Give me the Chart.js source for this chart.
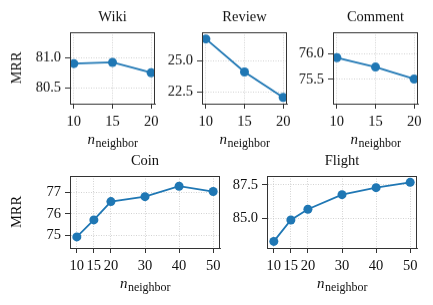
<!DOCTYPE html>
<html>
<head>
<meta charset="utf-8">
<script src="https://cdn.jsdelivr.net/npm/chart.js@4"></script>
<style>
  html, body { margin:0; padding:0; background:#fff; }
  #fig { position:relative; width:433px; height:305px; overflow:hidden; }
  #fig canvas { position:absolute; }
</style>
</head>
<body>
<div id="fig"></div>
<script>
// neighbor counts on the x axis
const xSmall = [10, 15, 20];
const xLarge = [10, 15, 20, 30, 40, 50];

// MRR
const wikiMRR    = [80.90, 80.92, 80.75];
const reviewMRR  = [26.73, 24.10, 22.08];
const commentMRR = [75.92, 75.74, 75.51];
const coinMRR    = [74.92, 75.72, 76.58, 76.81, 77.30, 77.05];
const flightMRR  = [83.23, 84.85, 85.66, 86.77, 87.30, 87.70];

// y tick labels per panel
const wikiTicks    = [80.5, 81.0];
const reviewTicks  = [22.5, 25.0];
const commentTicks = [75.5, 76.0];
const coinTicks    = [75, 76, 77];
const flightTicks  = [85.0, 87.5];

const FONT = '"Liberation Serif", "DejaVu Serif", serif';
const BLUE = '#1f77b4';
const YW = 70, PAD_T = 32, PAD_R = 14, XH = 31, PAD_B = 25;

// plot-area boxes (left, top, width, height) and axis ranges
const panels = [
  {title:'Wiki',    xs:xSmall, ys:wikiMRR,    ticks:wikiTicks,    dec:1, xr:[9.5,20.5], yr:[80.24,81.416], box:[70,32,85,71.5],    ylabel:true},
  {title:'Review',  xs:xSmall, ys:reviewMRR,  ticks:reviewTicks,  dec:1, xr:[9.5,20.5], yr:[21.58,27.26],  box:[201.5,32,85,71.5], ylabel:false},
  {title:'Comment', xs:xSmall, ys:commentMRR, ticks:commentTicks, dec:1, xr:[9.5,20.5], yr:[75.035,76.41], box:[332.5,32,85,71.5], ylabel:false},
  {title:'Coin',    xs:xLarge, ys:coinMRR,    ticks:coinTicks,    dec:0, xr:[8,52],     yr:[74.40,77.78],  box:[70,176,150,72],    ylabel:true},
  {title:'Flight',  xs:xLarge, ys:flightMRR,  ticks:flightTicks,  dec:1, xr:[8,52],     yr:[82.73,88.18],  box:[267,176,150,72],   ylabel:false}
];

// box around plot, title, axis labels
const decor = {
  id:'decor',
  afterDraw(chart, args, opts){
    const ctx = chart.ctx, a = chart.chartArea;
    ctx.save();
    ctx.setLineDash([]);
    ctx.strokeStyle = '#333';
    ctx.lineWidth = 1;
    ctx.strokeRect(Math.round(a.left)+0.5, Math.round(a.top)+0.5, Math.round(a.right)-Math.round(a.left)-1, Math.round(a.bottom)-Math.round(a.top));
    ctx.fillStyle = '#111';
    const cx = (a.left + a.right)/2;
    // title
    ctx.font = '14.5px ' + FONT;
    ctx.textAlign = 'center';
    ctx.textBaseline = 'middle';
    ctx.fillText(opts.title, cx, a.top - 15);
    // x label: italic n with roman subscript
    ctx.textBaseline = 'alphabetic';
    ctx.font = 'italic 15px ' + FONT;
    const wN = ctx.measureText('n').width;
    ctx.font = '12px ' + FONT;
    const wS = ctx.measureText('neighbor').width;
    const x0 = cx - (wN + wS)/2, base = a.bottom + 40;
    ctx.textAlign = 'left';
    ctx.font = 'italic 15px ' + FONT;
    ctx.fillText('n', x0, base);
    ctx.font = '12px ' + FONT;
    ctx.fillText('neighbor', x0 + wN + 0.5, base + 2.5);
    // y label
    if(opts.ylabel){
      ctx.translate(17, (a.top + a.bottom)/2);
      ctx.rotate(-Math.PI/2);
      ctx.font = '14.5px ' + FONT;
      ctx.textAlign = 'center';
      ctx.textBaseline = 'middle';
      ctx.fillText('MRR', 0, 0);
    }
    ctx.restore();
  }
};

const fig = document.getElementById('fig');

panels.forEach(p=>{
  const [L, T, W, H] = p.box;
  const cv = document.createElement('canvas');
  const cw = YW + W + PAD_R, ch = PAD_T + H + XH + PAD_B;
  cv.style.left = (L - YW) + 'px';
  cv.style.top = (T - PAD_T) + 'px';
  cv.style.width = cw + 'px';
  cv.style.height = ch + 'px';
  cv.width = cw; cv.height = ch;
  fig.appendChild(cv);

  // v4 takes the grid-line dash from border.dash
  const gridOpts = {
    color:'#c8c8c8', lineWidth:0.8,
    tickLength:5, tickColor:'#333', tickWidth:1, tickBorderDash:[]
  };
  const borderOpts = {display:true, color:'#333', width:1, dash:[1,1.5]};

  new Chart(cv.getContext('2d'), {
    type:'line',
    data:{
      datasets:[{
        data: p.xs.map((x,i)=>({x, y:p.ys[i]})),
        borderColor:BLUE, backgroundColor:BLUE,
        borderWidth:1.8, pointRadius:4.5, pointHoverRadius:4.5,
        pointBorderWidth:0, tension:0, clip:0
      }]
    },
    options:{
      responsive:false, animation:false,
      layout:{padding:{left:0, top:PAD_T, right:PAD_R, bottom:PAD_B}},
      plugins:{legend:{display:false}, tooltip:{enabled:false}, title:{display:false},
               decor:{title:p.title, ylabel:p.ylabel}},
      events:[],
      scales:{
        x:{
          type:'linear', min:p.xr[0], max:p.xr[1],
          afterBuildTicks: s => { s.ticks = p.xs.map(v=>({value:v})); },
          afterFit: s => { s.height = XH; },
          ticks:{font:{family:FONT, size:14.5}, color:'#111', padding:4, maxRotation:0, autoSkip:false,
                 callback: v => String(v)},
          grid:gridOpts,
          border:borderOpts
        },
        y:{
          type:'linear', min:p.yr[0], max:p.yr[1],
          afterBuildTicks: s => { s.ticks = p.ticks.map(v=>({value:v})); },
          afterFit: s => { s.width = YW; },
          ticks:{font:{family:FONT, size:14.5}, color:'#111', padding:4, autoSkip:false,
                 callback: v => Number(v).toFixed(p.dec)},
          grid:gridOpts,
          border:borderOpts
        }
      }
    },
    plugins:[decor]
  });
});
</script>
</body>
</html>
